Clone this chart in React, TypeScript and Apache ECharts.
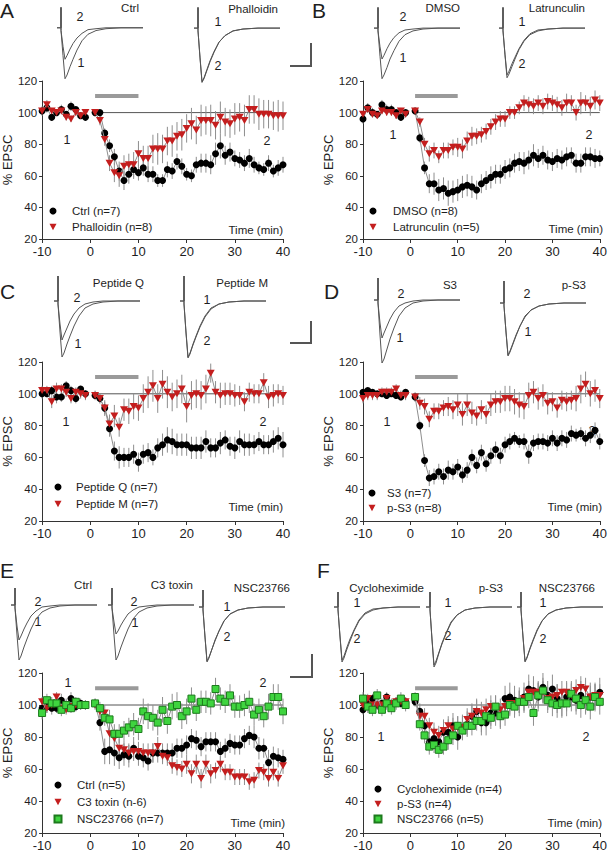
import React, { useEffect, useRef } from 'react';
import * as echarts from 'echarts';

// ---------- time axis (minutes) ----------
const minutes = [-10, -9, -8, -7, -6, -5, -4, -3, -2, -1,
  1, 2, 3, 4, 5, 6, 7, 8, 9, 10, 11, 12, 13, 14, 15, 16, 17, 18, 19, 20,
  21, 22, 23, 24, 25, 26, 27, 28, 29, 30, 31, 32, 33, 34, 35, 36, 37, 38, 39, 40];

const refLine = [[0.6, 100], [40, 100]];
const drugBar = [[1, 110.5], [10, 110.5]];

// ---------- Panel A ----------
const aCtrl = [101, 103, 97, 100, 102, 99, 104, 102, 98, 97,
  100, 100, 87, 79, 72, 63, 57, 61, 64, 62, 65, 61, 61, 57, 57, 64, 63, 69, 66, 61,
  60, 67, 68, 68, 67, 74, 79, 73, 75, 71, 70, 68, 71, 67, 65, 64, 68, 63, 65, 67];
const aCtrlErr = [3, 3, 2, 2, 3, 2, 3, 2, 2, 2,
  2, 2, 3, 4, 5, 6, 6, 6, 6, 5, 5, 5, 5, 4, 4, 5, 5, 5, 5, 4,
  4, 5, 6, 6, 6, 7, 8, 6, 6, 5, 5, 5, 6, 5, 4, 4, 5, 4, 5, 5];
const aPhal = [101, 105, 101, 100, 101, 97, 96, 100, 98, 100,
  100, 95, 83, 68, 62, 60, 66, 67, 67, 74, 71, 71, 77, 77, 77, 82, 82, 85, 86, 90,
  93, 89, 95, 95, 95, 92, 97, 94, 93, 96, 97, 95, 102, 102, 99, 99, 99, 98, 98, 98];
const aPhalErr = [2, 3, 2, 2, 2, 2, 2, 2, 2, 2,
  2, 3, 4, 5, 6, 7, 7, 7, 8, 8, 8, 8, 9, 10, 9, 9, 10, 9, 10, 9,
  10, 9, 10, 9, 10, 9, 10, 9, 9, 10, 9, 10, 9, 9, 10, 9, 9, 9, 10, 9];

// ---------- Panel B ----------
const bDmso = [96, 103, 100, 99, 105, 102, 102, 100, 97, 100,
  101, 84, 65, 55, 55, 51, 52, 49, 50, 51, 53, 54, 53, 51, 55, 57, 59, 61, 61, 64,
  65, 68, 69, 68, 70, 73, 71, 73, 70, 69, 71, 70, 72, 73, 68, 68, 72, 72, 71, 71];
const bDmsoErr = [3, 3, 3, 2, 3, 3, 3, 2, 2, 2,
  2, 3, 4, 6, 7, 7, 7, 8, 7, 7, 7, 7, 7, 6, 6, 6, 7, 6, 6, 6,
  6, 6, 6, 7, 6, 7, 6, 6, 6, 6, 6, 6, 6, 5, 6, 6, 6, 6, 6, 5];
const bLat = [99, 102, 99, 98, 101, 100, 100, 98, 101, 99,
  101, 94, 80, 74, 76, 72, 76, 76, 78, 78, 77, 82, 85, 85, 86, 88, 91, 94, 96, 96,
  100, 100, 103, 106, 105, 104, 106, 104, 107, 106, 105, 103, 106, 106, 100, 106, 106, 104, 108, 106];
const bLatErr = [2, 2, 2, 2, 2, 2, 2, 2, 2, 2,
  2, 3, 4, 5, 5, 4, 5, 5, 5, 6, 6, 6, 6, 5, 5, 5, 5, 5, 5, 5,
  4, 4, 4, 5, 5, 5, 5, 5, 5, 5, 5, 5, 6, 5, 5, 7, 5, 6, 6, 5];

// ---------- Panel C ----------
const cPepQ = [100, 100, 102, 98, 98, 105, 102, 97, 103, 100,
  99, 97, 91, 78, 64, 60, 60, 60, 62, 57, 62, 63, 60, 66, 68, 71, 70, 68, 68, 68,
  66, 66, 66, 70, 66, 66, 69, 71, 67, 66, 70, 68, 68, 68, 70, 68, 68, 70, 72, 68];
const cPepQErr = [3, 2, 3, 4, 3, 3, 3, 3, 2, 2,
  2, 3, 4, 5, 6, 7, 6, 6, 6, 6, 6, 6, 5, 6, 7, 8, 8, 7, 7, 7,
  7, 7, 7, 7, 6, 6, 7, 6, 6, 7, 7, 7, 7, 6, 6, 6, 6, 7, 7, 8];
const cPepM = [102, 102, 95, 103, 103, 101, 97, 101, 100, 99,
  99, 97, 91, 81, 86, 79, 90, 89, 92, 91, 97, 101, 105, 97, 106, 101, 98, 100, 103, 92,
  99, 100, 99, 103, 113, 101, 99, 100, 100, 99, 99, 95, 101, 100, 100, 107, 98, 99, 100, 99];
const cPepMErr = [3, 3, 4, 4, 3, 3, 3, 3, 3, 3,
  3, 3, 5, 6, 7, 6, 7, 8, 8, 8, 9, 10, 10, 9, 9, 10, 9, 9, 9, 10,
  9, 9, 9, 9, 6, 7, 8, 7, 7, 7, 6, 6, 6, 6, 6, 6, 7, 7, 6, 6];

// ---------- Panel D ----------
const dS3 = [101, 102, 101, 100, 100, 99, 100, 99, 98, 101,
  98, 80, 58, 47, 48, 51, 48, 52, 51, 54, 49, 52, 60, 55, 63, 56, 61, 65, 61, 68,
  70, 72, 70, 70, 62, 69, 70, 70, 69, 72, 69, 72, 71, 75, 74, 75, 72, 74, 77, 70];
const dS3Err = [2, 2, 2, 2, 2, 2, 2, 2, 2, 2,
  2, 3, 4, 5, 5, 5, 5, 6, 5, 5, 5, 5, 5, 5, 5, 5, 5, 5, 5, 5,
  5, 4, 4, 5, 6, 5, 5, 5, 5, 5, 5, 5, 5, 5, 4, 4, 5, 5, 5, 5];
const dPs3 = [97, 99, 99, 99, 101, 101, 101, 103, 99, 99,
  98, 94, 92, 84, 89, 89, 91, 92, 90, 93, 87, 93, 88, 86, 90, 87, 93, 95, 95, 97,
  97, 95, 93, 92, 99, 101, 97, 99, 94, 95, 91, 96, 95, 96, 97, 103, 106, 100, 102, 97];
const dPs3Err = [3, 3, 3, 3, 3, 3, 3, 3, 3, 3,
  3, 4, 5, 5, 5, 5, 5, 6, 6, 7, 7, 7, 7, 6, 6, 6, 7, 7, 7, 8,
  8, 8, 8, 8, 8, 7, 7, 7, 7, 6, 6, 6, 6, 6, 8, 9, 8, 8, 7, 6];

// ---------- Panel E ----------
const eCtrl = [98, 99, 98, 98, 103, 100, 104, 99, 101, 100,
  101, 89, 71, 72, 70, 67, 69, 68, 73, 68, 67, 65, 70, 70, 70, 70, 70, 73, 73, 75,
  79, 78, 74, 77, 77, 77, 71, 73, 76, 75, 75, 79, 81, 80, 73, 73, 64, 68, 67, 66];
const eCtrlErr = [4, 4, 4, 3, 4, 3, 4, 3, 3, 3,
  3, 5, 8, 9, 8, 7, 7, 7, 7, 6, 6, 6, 6, 6, 6, 6, 6, 6, 6, 6,
  6, 6, 6, 6, 6, 6, 6, 6, 6, 6, 6, 6, 6, 7, 7, 6, 8, 6, 6, 6];
const eC3 = [102, 98, 100, 105, 98, 97, 99, 100, 100, 100,
  100, 96, 95, 82, 79, 73, 72, 70, 71, 71, 70, 70, 70, 74, 68, 67, 62, 61, 60, 63,
  57, 63, 54, 63, 57, 59, 63, 58, 58, 55, 55, 55, 52, 53, 59, 58, 54, 58, 54, 62];
const eC3Err = [3, 3, 3, 3, 3, 3, 3, 3, 3, 3,
  3, 4, 5, 6, 6, 6, 6, 6, 6, 6, 6, 6, 6, 6, 5, 5, 5, 5, 5, 6,
  6, 6, 6, 6, 6, 5, 5, 5, 5, 5, 5, 5, 5, 5, 5, 5, 5, 5, 5, 5];
const eNsc = [95, 103, 101, 101, 97, 100, 98, 102, 100, 100,
  101, 98, 92, 91, 82, 82, 84, 86, 88, 85, 96, 93, 92, 89, 97, 90, 99, 100, 93, 96,
  104, 97, 102, 102, 101, 110, 104, 102, 106, 99, 99, 100, 102, 94, 97, 93, 99, 105, 105, 96];
const eNscErr = [4, 4, 4, 4, 4, 4, 3, 3, 3, 3,
  3, 4, 5, 6, 6, 6, 6, 6, 7, 7, 8, 8, 8, 8, 8, 8, 8, 8, 8, 8,
  7, 7, 7, 7, 7, 7, 7, 7, 7, 7, 7, 7, 7, 7, 7, 7, 8, 8, 8, 8];

// ---------- Panel F ----------
const fCyc = [97, 101, 104, 100, 101, 105, 99, 102, 101, 102,
  102, 96, 87, 77, 79, 77, 83, 83, 87, 80, 86, 88, 93, 96, 89, 89, 95, 95, 93, 104,
  105, 103, 102, 105, 110, 109, 105, 111, 106, 110, 104, 101, 105, 105, 103, 106, 103, 105, 105, 108];
const fCycErr = [3, 3, 3, 3, 3, 3, 3, 3, 3, 3,
  3, 5, 6, 6, 7, 7, 8, 8, 8, 8, 8, 8, 8, 8, 8, 8, 8, 8, 8, 8,
  9, 9, 9, 9, 9, 9, 9, 9, 9, 9, 9, 9, 9, 9, 9, 9, 9, 9, 9, 9];
const fPs3 = [100, 104, 100, 100, 100, 104, 101, 102, 102, 102,
  104, 93, 93, 87, 83, 81, 84, 87, 85, 86, 86, 91, 93, 96, 95, 97, 99, 99, 97, 99,
  101, 101, 102, 104, 108, 108, 108, 108, 104, 105, 106, 108, 108, 106, 109, 111, 110, 105, 106, 106];
const fPs3Err = [3, 3, 3, 3, 3, 3, 3, 3, 3, 3,
  3, 4, 5, 5, 6, 6, 6, 6, 7, 7, 7, 7, 7, 7, 7, 7, 7, 7, 7, 7,
  7, 7, 7, 7, 7, 7, 7, 7, 7, 7, 7, 7, 7, 7, 7, 7, 7, 7, 7, 7];
const fNsc = [104, 99, 97, 106, 97, 101, 98, 101, 104, 100,
  105, 88, 81, 74, 75, 72, 74, 78, 81, 87, 84, 87, 87, 90, 90, 93, 92, 99, 93, 94,
  100, 99, 102, 102, 105, 95, 106, 109, 103, 101, 100, 101, 101, 107, 104, 100, 103, 99, 105, 102];
const fNscErr = [4, 4, 4, 4, 4, 4, 4, 4, 4, 4,
  3, 4, 5, 5, 5, 5, 5, 6, 6, 6, 6, 6, 6, 6, 7, 7, 7, 7, 7, 7,
  7, 7, 7, 7, 7, 8, 8, 8, 8, 8, 8, 8, 8, 8, 8, 8, 8, 8, 8, 8];

// ---------- sample EPSC traces ----------
const traceTime = [-4, 0, 0, 0, 2, 4, 6, 9, 12, 16, 21, 27, 35, 45, 60, 82];
const ctrlA1 = [0, 0, 22, -3, -30, -55, -51, -42, -34, -24, -14, -7, -3, -1, 0, 0];
const ctrlA2 = [0, 0, 22, -3, -20, -34, -30, -23, -17, -11, -6, -2, -1, 0, 0, 0];
const phalA1 = [0, 0, 22, -3, -31, -57, -53, -44, -35, -25, -15, -8, -3, -1, 0, 0];
const phalA2 = [0, 0, 22, -3, -32, -58, -54, -45, -36, -26, -15, -8, -3, -1, 0, 0];
const dmso1 = [0, 0, 22, -3, -30, -54, -50, -42, -33, -24, -14, -7, -3, -1, 0, 0];
const dmso2 = [0, 0, 22, -3, -20, -33, -29, -22, -16, -10, -5, -2, -1, 0, 0, 0];
const latr1 = [0, 0, 22, -3, -28, -50, -46, -38, -31, -22, -13, -6, -2, -1, 0, 0];
const latr2 = [0, 0, 22, -3, -29, -53, -49, -41, -33, -23, -14, -7, -3, -1, 0, 0];
const pepQ1 = [0, 0, 25, -3, -31, -56, -52, -43, -35, -25, -15, -7, -3, -1, 0, 0];
const pepQ2 = [0, 0, 25, -3, -23, -39, -34, -27, -20, -13, -7, -3, -1, 0, 0, 0];
const pepM1 = [0, 0, 25, -3, -31, -56, -52, -43, -35, -25, -15, -7, -3, -1, 0, 0];
const pepM2 = [0, 0, 25, -3, -32, -57, -53, -44, -36, -26, -16, -8, -3, -1, 0, 0];
const s3T1 = [0, 0, 22, -3, -35, -63, -59, -49, -39, -28, -16, -8, -3, -1, 0, 0];
const s3T2 = [0, 0, 22, -3, -23, -38, -33, -26, -19, -12, -6, -3, -1, 0, 0, 0];
const ps3D1 = [0, 0, 22, -3, -29, -52, -48, -40, -32, -23, -13, -7, -3, -1, 0, 0];
const ps3D2 = [0, 0, 22, -3, -29, -53, -49, -41, -33, -23, -14, -7, -3, -1, 0, 0];
const ctrlE1 = [0, 0, 17, -3, -30, -55, -51, -42, -34, -24, -14, -7, -3, -1, 0, 0];
const ctrlE2 = [0, 0, 17, -3, -21, -35, -31, -24, -18, -11, -6, -2, -1, 0, 0, 0];
const c3T1 = [0, 0, 17, -3, -30, -55, -51, -42, -34, -24, -14, -7, -3, -1, 0, 0];
const c3T2 = [0, 0, 17, -3, -17, -29, -26, -20, -15, -9, -5, -2, -1, 0, 0, 0];
const nscE1 = [0, 0, 17, -3, -30, -54, -50, -42, -33, -24, -14, -7, -3, -1, 0, 0];
const nscE2 = [0, 0, 17, -3, -30, -55, -51, -42, -34, -24, -14, -7, -3, -1, 0, 0];
const cyclo1 = [0, 0, 15, -3, -30, -55, -51, -42, -34, -24, -14, -7, -3, -1, 0, 0];
const cyclo2 = [0, 0, 15, -3, -29, -53, -49, -40, -32, -23, -13, -6, -2, -1, 0, 0];
const ps3F1 = [0, 0, 15, -3, -32, -58, -54, -45, -36, -26, -15, -8, -3, -1, 0, 0];
const ps3F2 = [0, 0, 15, -3, -33, -60, -56, -46, -37, -27, -16, -8, -3, -1, 0, 0];
const nscF1 = [0, 0, 15, -3, -30, -55, -51, -42, -34, -24, -14, -7, -3, -1, 0, 0];
const nscF2 = [0, 0, 15, -3, -30, -54, -50, -41, -33, -23, -14, -7, -3, -1, 0, 0];

// ---------- styling ----------
const FONT = '"Liberation Sans", Arial, sans-serif';
const TRI = 'path://M0,0 L10,0 L5,9 Z';
const RED = '#c41e1e';
const GREEN = '#3fd43f';
const TXT = '#1e1e1e';

type Kind = 'circle' | 'tri' | 'square';
type Ser = { name: string; vals: number[]; err: number[]; kind: Kind };
type Lbl = { t: string; x: number; y: number; align?: string; size?: number };

const panels: any[] = [
  {
    letter: { t: 'A', x: 0, y: 10, align: 'left' },
    grid: { left: 42, top: 81, width: 241, height: 158 },
    legend: { left: 49.5, top: 204, pad: 10.5, itemGap: 2 },
    time: { x: 283, y: 230 },
    series: [
      { name: 'Ctrl (n=7)', vals: aCtrl, err: aCtrlErr, kind: 'circle' },
      { name: 'Phalloidin (n=8)', vals: aPhal, err: aPhalErr, kind: 'tri' },
    ],
    traces: [
      { ax: 61, by: 23, lines: [ctrlA1, ctrlA2] },
      { ax: 198, by: 24, lines: [phalA1, phalA2] },
    ],
    labels: [
      { t: 'Ctrl', x: 139, y: 8, align: 'right' },
      { t: 'Phalloidin', x: 278, y: 9, align: 'right' },
      { t: '2', x: 80, y: 17 }, { t: '1', x: 81, y: 63 },
      { t: '1', x: 218, y: 22 }, { t: '2', x: 218, y: 66 },
      { t: '1', x: 67, y: 140 }, { t: '2', x: 267, y: 141 },
    ],
  },
  {
    letter: { t: 'B', x: 312, y: 10, align: 'left' },
    grid: { left: 363, top: 81, width: 240, height: 158 },
    legend: { left: 369.5, top: 204, pad: 11.5, itemGap: 2 },
    time: { x: 603, y: 229 },
    series: [
      { name: 'DMSO (n=8)', vals: bDmso, err: bDmsoErr, kind: 'circle' },
      { name: 'Latrunculin (n=5)', vals: bLat, err: bLatErr, kind: 'tri' },
    ],
    traces: [
      { ax: 378, by: 24, lines: [dmso1, dmso2] },
      { ax: 503, by: 24, lines: [latr1, latr2] },
    ],
    labels: [
      { t: 'DMSO', x: 460, y: 8, align: 'right' },
      { t: 'Latrunculin', x: 585, y: 8, align: 'right' },
      { t: '2', x: 403, y: 17 }, { t: '1', x: 403, y: 58 },
      { t: '1', x: 522, y: 22 }, { t: '2', x: 522, y: 64 },
      { t: '1', x: 393, y: 135 }, { t: '2', x: 589, y: 135 },
    ],
  },
  {
    letter: { t: 'C', x: 0, y: 291, align: 'left' },
    grid: { left: 42, top: 362, width: 241, height: 159 },
    legend: { left: 54.5, top: 480, pad: 9.5, itemGap: 3 },
    time: { x: 283, y: 507 },
    series: [
      { name: 'Peptide Q (n=7)', vals: cPepQ, err: cPepQErr, kind: 'circle' },
      { name: 'Peptide M (n=7)', vals: cPepM, err: cPepMErr, kind: 'tri' },
    ],
    traces: [
      { ax: 58, by: 301, lines: [pepQ1, pepQ2] },
      { ax: 184, by: 301, lines: [pepM1, pepM2] },
    ],
    labels: [
      { t: 'Peptide Q', x: 144, y: 283, align: 'right' },
      { t: 'Peptide M', x: 268, y: 283, align: 'right' },
      { t: '2', x: 77, y: 298 }, { t: '1', x: 78, y: 344 },
      { t: '1', x: 207, y: 300 }, { t: '2', x: 207, y: 341 },
      { t: '1', x: 66, y: 422 }, { t: '2', x: 263, y: 422 },
    ],
  },
  {
    letter: { t: 'D', x: 324, y: 291, align: 'left' },
    grid: { left: 363, top: 362, width: 240, height: 159 },
    legend: { left: 368.5, top: 486, pad: 6.5, itemGap: 1 },
    time: { x: 602, y: 507 },
    series: [
      { name: 'S3 (n=7)', vals: dS3, err: dS3Err, kind: 'circle' },
      { name: 'p-S3 (n=8)', vals: dPs3, err: dPs3Err, kind: 'tri' },
    ],
    traces: [
      { ax: 378, by: 300, lines: [s3T1, s3T2] },
      { ax: 504, by: 303, lines: [ps3D1, ps3D2] },
    ],
    labels: [
      { t: 'S3', x: 457, y: 285, align: 'right' },
      { t: 'p-S3', x: 586, y: 285, align: 'right' },
      { t: '2', x: 401, y: 294 }, { t: '1', x: 400, y: 338 },
      { t: '2', x: 527, y: 294 }, { t: '1', x: 528, y: 332 },
      { t: '1', x: 387, y: 422 }, { t: '2', x: 592, y: 431 },
    ],
  },
  {
    letter: { t: 'E', x: 0, y: 570, align: 'left' },
    grid: { left: 42, top: 673, width: 241, height: 160 },
    legend: { left: 53.5, top: 778, pad: 10.5, itemGap: 3 },
    time: { x: 285, y: 823 },
    series: [
      { name: 'Ctrl (n=5)', vals: eCtrl, err: eCtrlErr, kind: 'circle' },
      { name: 'C3 toxin (n-6)', vals: eC3, err: eC3Err, kind: 'tri' },
      { name: 'NSC23766 (n=7)', vals: eNsc, err: eNscErr, kind: 'square' },
    ],
    traces: [
      { ax: 15, by: 605, lines: [ctrlE1, ctrlE2] },
      { ax: 112, by: 605, lines: [c3T1, c3T2] },
      { ax: 203, by: 607, lines: [nscE1, nscE2] },
    ],
    labels: [
      { t: 'Ctrl', x: 92, y: 585, align: 'right' },
      { t: 'C3 toxin', x: 193, y: 585, align: 'right' },
      { t: 'NSC23766', x: 290, y: 588, align: 'right' },
      { t: '2', x: 38, y: 602 }, { t: '1', x: 38, y: 622 },
      { t: '2', x: 134, y: 602 }, { t: '1', x: 135, y: 623 },
      { t: '1', x: 227, y: 607 }, { t: '2', x: 227, y: 637 },
      { t: '1', x: 68, y: 683 }, { t: '2', x: 263, y: 683 },
    ],
  },
  {
    letter: { t: 'F', x: 317, y: 570, align: 'left' },
    grid: { left: 363, top: 673, width: 239, height: 160 },
    legend: { left: 373.5, top: 782, pad: 10.5, itemGap: 1 },
    time: { x: 602, y: 823 },
    series: [
      { name: 'Cycloheximide (n=4)', vals: fCyc, err: fCycErr, kind: 'circle' },
      { name: 'p-S3 (n=4)', vals: fPs3, err: fPs3Err, kind: 'tri' },
      { name: 'NSC23766 (n=5)', vals: fNsc, err: fNscErr, kind: 'square' },
    ],
    traces: [
      { ax: 338, by: 607, lines: [cyclo1, cyclo2] },
      { ax: 430, by: 607, lines: [ps3F1, ps3F2] },
      { ax: 521, by: 607, lines: [nscF1, nscF2] },
    ],
    labels: [
      { t: 'Cycloheximide', x: 424, y: 588, align: 'right' },
      { t: 'p-S3', x: 503, y: 588, align: 'right' },
      { t: 'NSC23766', x: 595, y: 588, align: 'right' },
      { t: '1', x: 357, y: 603 }, { t: '2', x: 357, y: 639 },
      { t: '1', x: 448, y: 603 }, { t: '2', x: 448, y: 636 },
      { t: '1', x: 543, y: 603 }, { t: '2', x: 543, y: 639 },
      { t: '1', x: 381, y: 737 }, { t: '2', x: 586, y: 737 },
    ],
  },
];

const scaleBars = [
  [[290, 66], [311, 66], [311, 43]],
  [[290, 343], [311, 343], [311, 321]],
  [[290, 677], [312, 677], [312, 654]],
];

function symbolOf(kind: Kind) {
  if (kind === 'circle') return { symbol: 'circle', symbolSize: 7, itemStyle: { color: '#000' } };
  if (kind === 'tri') return { symbol: TRI, symbolSize: [8, 7], itemStyle: { color: RED } };
  return { symbol: 'rect', symbolSize: 7, itemStyle: { color: GREEN, borderColor: '#1d7a1d', borderWidth: 1 } };
}
function iconOf(kind: Kind) {
  if (kind === 'circle') return 'circle';
  if (kind === 'tri') return TRI;
  return 'rect';
}

function errRender(_p: any, api: any) {
  const x = api.value(0);
  const v = api.value(1);
  const e = api.value(2);
  const a = api.coord([x, v - e]);
  const b = api.coord([x, v + e]);
  return {
    type: 'line',
    shape: { x1: a[0], y1: a[1], x2: b[0], y2: b[1] },
    style: { stroke: '#8e8e8e', lineWidth: 1 },
  };
}

function text(l: Lbl, size = 12) {
  const align = l.align || 'center';
  return {
    type: 'text', x: l.x, y: l.y, silent: true,
    style: {
      text: l.t, fill: TXT, fontSize: l.size || size, fontFamily: FONT,
      align, textAlign: align, verticalAlign: 'middle', textVerticalAlign: 'middle',
    },
  };
}

function buildOption() {
  const grid: any[] = [];
  const xAxis: any[] = [];
  const yAxis: any[] = [];
  const series: any[] = [];
  const legend: any[] = [];
  const graphic: any[] = [];

  panels.forEach((p) => {
    const gi = grid.length;
    grid.push({ ...p.grid });
    xAxis.push({
      gridIndex: gi, type: 'value', min: -10, max: 40, interval: 10,
      axisLine: { show: true, onZero: false, lineStyle: { color: '#333', width: 1 } },
      axisTick: { show: true, length: 4, lineStyle: { color: '#333' } },
      splitLine: { show: false },
      axisLabel: { fontSize: 13, color: TXT, margin: 6, fontFamily: FONT },
    });
    yAxis.push({
      gridIndex: gi, type: 'value', min: 20, max: 120, interval: 20,
      name: '% EPSC', nameLocation: 'middle', nameGap: 21,
      nameTextStyle: { fontSize: 13, color: TXT, fontFamily: FONT },
      axisLine: { show: true, onZero: false, lineStyle: { color: '#333', width: 1 } },
      axisTick: { show: true, length: 3, lineStyle: { color: '#333' } },
      splitLine: { show: false },
      axisLabel: { fontSize: 11.5, color: TXT, margin: 5, fontFamily: FONT },
    });
    // reference line at 100 % and drug application bar
    series.push({
      type: 'line', xAxisIndex: gi, yAxisIndex: gi, data: refLine, symbol: 'none',
      lineStyle: { color: '#555', width: 1 }, silent: true, z: 1,
    });
    series.push({
      type: 'line', xAxisIndex: gi, yAxisIndex: gi, data: drugBar, symbol: 'none',
      lineStyle: { color: '#9a9a9a', width: 4 }, silent: true, z: 1,
    });
    (p.series as Ser[]).forEach((s) => {
      series.push({
        type: 'custom', name: s.name + ' SEM', xAxisIndex: gi, yAxisIndex: gi,
        renderItem: errRender, encode: { x: 0, y: 1 }, silent: true, z: 2,
        data: minutes.map((t, i) => [t, s.vals[i], s.err[i]]),
      });
    });
    (p.series as Ser[]).forEach((s, k) => {
      const pts: any[] = minutes.map((t, i) => [t, s.vals[i]]);
      pts.splice(10, 0, [0, '-']);
      series.push({
        type: 'line', name: s.name, xAxisIndex: gi, yAxisIndex: gi, data: pts,
        ...symbolOf(s.kind), showSymbol: true, connectNulls: false,
        lineStyle: { color: '#8e8e8e', width: 1 }, z: 3 + k, silent: true,
      });
    });
    legend.push({
      orient: 'vertical', left: p.legend.left, top: p.legend.top, padding: 0,
      itemWidth: 7, itemHeight: 7, itemGap: p.legend.itemGap,
      selectedMode: false,
      textStyle: {
        fontSize: 11.5, color: TXT, fontFamily: FONT, lineHeight: 14,
        padding: [0, 0, 0, p.legend.pad],
      },
      data: (p.series as Ser[]).map((s) => ({ name: s.name, icon: iconOf(s.kind) })),
    });
    // sample traces
    p.traces.forEach((tr: any) => {
      const ti = grid.length;
      grid.push({ left: tr.ax - 4, top: tr.by - 30, width: 86, height: 95 });
      xAxis.push({ gridIndex: ti, type: 'value', min: -4, max: 82, show: false });
      yAxis.push({ gridIndex: ti, type: 'value', min: -65, max: 30, show: false });
      tr.lines.forEach((arr: number[]) => {
        series.push({
          type: 'line', xAxisIndex: ti, yAxisIndex: ti, symbol: 'none', silent: true,
          data: traceTime.map((t, i) => [t, arr[i]]),
          lineStyle: { color: '#555', width: 1 },
        });
      });
    });
    graphic.push(text(p.letter, 21));
    p.labels.forEach((l: Lbl) => graphic.push(text(l, l.t.length > 1 ? 11.5 : 12.5)));
    graphic.push(text({ t: 'Time (min)', x: p.time.x, y: p.time.y, align: 'right' }, 11.5));
  });

  scaleBars.forEach((pts) => {
    graphic.push({
      type: 'polyline', silent: true, shape: { points: pts },
      style: { stroke: '#555', lineWidth: 2, fill: 'none' },
    });
  });

  return {
    animation: false,
    backgroundColor: '#fff',
    textStyle: { fontFamily: FONT },
    grid, xAxis, yAxis, series, legend, graphic,
  };
}

export default function App() {
  const ref = useRef<HTMLDivElement>(null);
  useEffect(() => {
    if (!ref.current) return;
    const chart = echarts.init(ref.current, undefined, { renderer: 'svg' });
    chart.setOption(buildOption() as any);
    return () => chart.dispose();
  }, []);
  return (
    <div
      ref={ref}
      style={{ position: 'absolute', left: 0, top: 0, width: 610, height: 852, background: '#fff' }}
    />
  );
}
